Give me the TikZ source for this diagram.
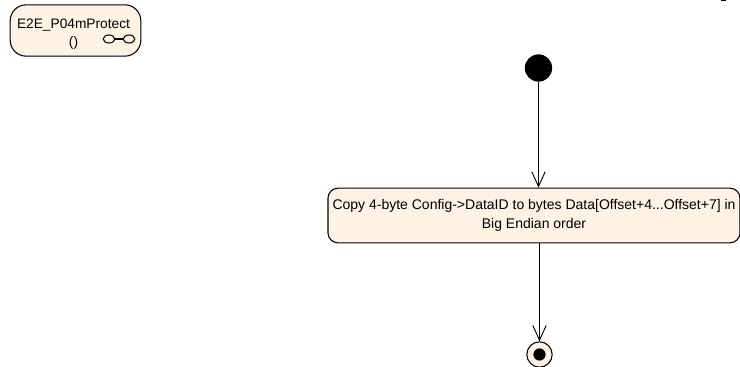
\documentclass[tikz,border=0pt]{standalone}
\usepackage{fontspec}
\setmainfont{Liberation Sans}
\usetikzlibrary{arrows.meta}
\definecolor{umlfill}{RGB}{253,242,227}

\begin{document}
\begin{tikzpicture}[x=0.75pt,y=-0.75pt,
  actbox/.style={draw=black,fill=umlfill,rounded corners=7.5pt,thick,inner sep=0pt},
  flow/.style={draw=black,line width=0.7pt,-{Straight Barb[length=11pt,width=10pt]}}]
\useasboundingbox (0,0) rectangle (740,367);
% activity frame label
\node[actbox,rounded corners=12pt,minimum width=98pt,minimum height=38.5pt] (title) at (75.5,30.5) {};
\node[font=\fontsize{10.3}{12}\selectfont,anchor=center] (titletext) at (73.5,25) {E2E\_P04mProtect};
\node[font=\fontsize{10.3}{12}\selectfont,anchor=center] (titleargs) at (73.5,43) {()};
\draw[thick] (109,39) ellipse (5.8 and 4);
\draw[thick] (129,39) ellipse (5.8 and 4);
\draw[thick] (114.8,39) -- (123.2,39);
% initial node
\node[circle,fill=black,minimum size=20.5pt,inner sep=0pt] (init) at (538.5,68) {};
% action
\node[actbox,minimum width=309pt,minimum height=41pt,align=center,font=\fontsize{10.5}{14.3}\selectfont] (copyid) at (534,215.5) {Copy 4-byte Config->DataID to bytes Data[Offset+4...Offset+7] in\\Big Endian order};
% final node
\node[circle,draw=black,thick,fill=umlfill,minimum size=19pt,inner sep=0pt] (fin) at (539.5,354.5) {};
\fill[black] (fin) circle (4.6pt);
% flows
\draw[flow] (init) -- (init |- copyid.north);
\draw[flow] (copyid.south -| fin) -- (fin.north);
% clipped frame corner
\fill[black] (721,0) rectangle (726,1.5);
\end{tikzpicture}
\end{document}
